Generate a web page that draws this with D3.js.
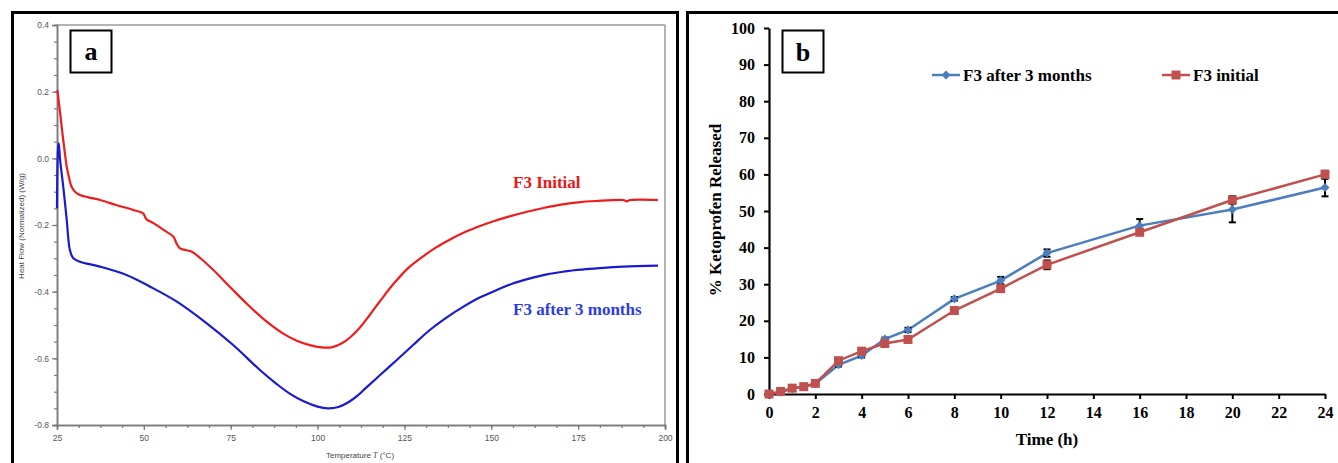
<!DOCTYPE html>
<html>
<head>
<meta charset="utf-8">
<script src="https://cdnjs.cloudflare.com/ajax/libs/d3/7.8.5/d3.min.js"></script>
<style>
  html, body { margin: 0; padding: 0; background: #fff; }
  svg { display: block; }
</style>
</head>
<body>
<svg id="fig" width="1338" height="463"></svg>
<script>
// ---- Panel a: DSC thermograms (temperature °C, heat flow W/g) ----
const initialT = [25.1, 25.4, 25.9, 26.8, 27.8, 28.5, 29.2, 30.2, 31.6, 34, 37.4, 42, 47, 49.8, 50.3, 50.8, 53, 56, 58.5, 59.4, 60.4, 62, 63.8, 66.2, 70, 75, 80, 85, 90, 94, 98, 101, 104, 107, 109.5, 112, 115, 118, 122, 126, 130, 134, 138, 142, 146, 150, 155, 160, 165, 170, 175, 180, 188, 189, 190, 198];
const initialHF = [0.205, 0.18, 0.136, 0.055, -0.025, -0.06, -0.085, -0.1, -0.11, -0.117, -0.125, -0.14, -0.155, -0.165, -0.175, -0.183, -0.196, -0.217, -0.235, -0.255, -0.27, -0.275, -0.28, -0.299, -0.335, -0.388, -0.44, -0.487, -0.525, -0.547, -0.561, -0.567, -0.567, -0.555, -0.536, -0.51, -0.47, -0.428, -0.375, -0.33, -0.297, -0.268, -0.244, -0.223, -0.206, -0.191, -0.175, -0.161, -0.149, -0.139, -0.132, -0.128, -0.125, -0.129, -0.125, -0.125];

const agedT = [25.0, 25.3, 25.5, 25.9, 26.8, 27.8, 28.3, 28.7, 29.7, 31.6, 37.4, 45, 51.8, 59.5, 68.1, 75.7, 83.4, 88, 92, 96, 100, 103, 106, 109, 111.5, 114, 118, 122.8, 127.5, 132.3, 137.2, 142, 146.8, 151.6, 156, 161.2, 166, 170.8, 175.5, 180.4, 188, 198];
const agedHF = [-0.15, 0.03, 0.045, -0.005, -0.085, -0.185, -0.245, -0.275, -0.3, -0.31, -0.325, -0.35, -0.385, -0.43, -0.495, -0.56, -0.635, -0.675, -0.706, -0.729, -0.745, -0.75, -0.746, -0.731, -0.712, -0.688, -0.65, -0.605, -0.56, -0.515, -0.477, -0.445, -0.417, -0.395, -0.376, -0.36, -0.348, -0.34, -0.334, -0.33, -0.325, -0.322];

const tempTicks = [25, 50, 75, 100, 125, 150, 175, 200];
const heatTicks = [0.4, 0.2, 0.0, -0.2, -0.4, -0.6, -0.8];

// ---- Panel b: dissolution profiles ----
const hours = [0, 0.5, 1, 1.5, 2, 3, 4, 5, 6, 8, 10, 12, 16, 20, 24];
const after3Months = [0, 0.5, 1.5, 2, 2.8, 8, 10.5, 15, 17.5, 26, 31, 38.5, 46, 50.4, 56.4];
const after3MonthsErr = [0, 0.2, 0.3, 0.3, 0.3, 0.5, 0.5, 0.4, 0.6, 0.5, 1.0, 1.0, 1.8, 3.5, 2.4];
const initial = [0, 0.7, 1.6, 2.0, 2.9, 9.1, 11.7, 13.8, 14.9, 22.8, 28.8, 35.3, 44.2, 53.0, 60.0];
const initialErr = [0, 0.2, 0.3, 0.3, 0.3, 0.5, 0.4, 0.4, 0.5, 0.5, 0.6, 1.2, 0.8, 1.0, 1.0];
const hourTicks = [0, 2, 4, 6, 8, 10, 12, 14, 16, 18, 20, 22, 24];
const releaseTicks = [0, 10, 20, 30, 40, 50, 60, 70, 80, 90, 100];

const svg = d3.select("#fig");
const serif = "'Liberation Serif', 'Times New Roman', serif";
const sans = "'Liberation Sans', Arial, sans-serif";

// ================= Panel a =================
const pa = svg.append("g");
pa.append("rect").attr("x", 12.5).attr("y", 12.5).attr("width", 665).attr("height", 470)
  .attr("fill", "none").attr("stroke", "#000").attr("stroke-width", 3);

const xa = d3.scaleLinear().domain([25, 200]).range([57, 665]);
const ya = d3.scaleLinear().domain([-0.8, 0.4]).range([425, 25]);
const grey = "#7a7a7a";

// plot frame
pa.append("line").attr("x1", xa(25)).attr("x2", xa(200)).attr("y1", ya(0.4)).attr("y2", ya(0.4))
  .attr("stroke", "#9a9a9a").attr("stroke-width", 1.5);
pa.append("line").attr("x1", xa(200)).attr("x2", xa(200)).attr("y1", ya(0.4)).attr("y2", ya(-0.8))
  .attr("stroke", "#9a9a9a").attr("stroke-width", 1.5);

const xAxisA = d3.axisBottom(xa).tickValues(d3.range(25, 200.1, 6.25)).tickSize(3).tickFormat("");
const gxa = pa.append("g").attr("transform", `translate(0,${ya(-0.8)})`).call(xAxisA);
const xAxisAMaj = d3.axisBottom(xa).tickValues(tempTicks).tickSize(5).tickPadding(5).tickFormat(d3.format("d"));
const gxa2 = pa.append("g").attr("transform", `translate(0,${ya(-0.8)})`).call(xAxisAMaj);
const yAxisA = d3.axisLeft(ya).tickValues(d3.range(-0.8, 0.401, 0.05)).tickSize(3).tickFormat("");
const gya = pa.append("g").attr("transform", `translate(${xa(25)},0)`).call(yAxisA);
const yAxisAMaj = d3.axisLeft(ya).tickValues(heatTicks).tickSize(5).tickPadding(3)
  .tickFormat(d => d3.format(".1f")(d).replace("\u2212", "-"));
const gya2 = pa.append("g").attr("transform", `translate(${xa(25)},0)`).call(yAxisAMaj);
[gxa, gxa2, gya, gya2].forEach(g => {
  g.selectAll(".domain").attr("stroke", grey).attr("stroke-width", 1.5);
  g.selectAll(".tick line").attr("stroke", grey).attr("stroke-width", 1.2);
  g.selectAll(".tick text").attr("fill", "#555").attr("font-family", sans).attr("font-size", 8.5);
});

pa.append("text").attr("transform", `translate(24,${226}) rotate(-90)`).attr("text-anchor", "middle")
  .attr("font-family", sans).attr("font-size", 8).attr("fill", "#444").text("Heat Flow (Normalized) (W/g)");
const tt = pa.append("text").attr("x", 360).attr("y", 458).attr("text-anchor", "middle")
  .attr("font-family", sans).attr("font-size", 8).attr("fill", "#444");
tt.append("tspan").text("Temperature ");
tt.append("tspan").attr("font-family", serif).attr("font-style", "italic").text("T");
tt.append("tspan").text(" (\u00B0C)");

const lineA = d3.line().x(d => xa(d[0])).y(d => ya(d[1])).curve(d3.curveCatmullRom.alpha(0.5));
pa.append("path").datum(d3.zip(agedT, agedHF)).attr("d", lineA)
  .attr("fill", "none").attr("stroke", "#1a1ad0").attr("stroke-width", 2.2);
pa.append("path").datum(d3.zip(initialT, initialHF)).attr("d", lineA)
  .attr("fill", "none").attr("stroke", "#f01c1c").attr("stroke-width", 2.2);

pa.append("text").attr("x", 513).attr("y", 188).attr("font-family", serif).attr("font-weight", "bold")
  .attr("font-size", 17).attr("fill", "#ee1515").text("F3 Initial");
pa.append("text").attr("x", 513).attr("y", 315).attr("font-family", serif).attr("font-weight", "bold")
  .attr("font-size", 17).attr("fill", "#2b3ee6").text("F3 after 3 months");

pa.append("rect").attr("x", 70.5).attr("y", 30.5).attr("width", 41).attr("height", 42)
  .attr("fill", "#fff").attr("stroke", "#000").attr("stroke-width", 2);
pa.append("text").attr("x", 91).attr("y", 60).attr("text-anchor", "middle").attr("font-family", serif)
  .attr("font-weight", "bold").attr("font-size", 26).text("a");

// ================= Panel b =================
const pb = svg.append("g");
pb.append("rect").attr("x", 687.5).attr("y", 12.5).attr("width", 665).attr("height", 470)
  .attr("fill", "none").attr("stroke", "#000").attr("stroke-width", 3);

const xb = d3.scaleLinear().domain([0, 24]).range([769, 1325]);
const yb = d3.scaleLinear().domain([0, 100]).range([394, 28]);

const gxb = pb.append("g").attr("transform", `translate(0,${yb(0)})`)
  .call(d3.axisBottom(xb).tickValues(hourTicks).tickSize(5).tickSizeOuter(0).tickPadding(8));
const gyb = pb.append("g").attr("transform", `translate(${xb(0)},0)`)
  .call(d3.axisLeft(yb).tickValues(releaseTicks).tickSize(5).tickSizeOuter(0).tickPadding(9));
[gxb, gyb].forEach(g => {
  g.selectAll(".domain").attr("stroke", "#000").attr("stroke-width", 2.2);
  g.selectAll(".tick line").attr("stroke", "#000").attr("stroke-width", 2);
  g.selectAll(".tick text").attr("fill", "#000").attr("font-family", serif)
    .attr("font-weight", "bold").attr("font-size", 16);
});

pb.append("text").attr("x", 1047).attr("y", 445).attr("text-anchor", "middle").attr("font-family", serif)
  .attr("font-weight", "bold").attr("font-size", 17).text("Time (h)");
pb.append("text").attr("transform", `translate(721,${210}) rotate(-90)`).attr("text-anchor", "middle")
  .attr("font-family", serif).attr("font-weight", "bold").attr("font-size", 17).text("% Ketoprofen Released");

const blue = "#4a7ebf", red = "#c0504d";
const diamond = (cx, cy, r) => `M${cx},${cy - r}L${cx + r},${cy}L${cx},${cy + r}L${cx - r},${cy}Z`;
const square = (cx, cy, r) => `M${cx - r},${cy - r}h${2 * r}v${2 * r}h${-2 * r}Z`;

function drawSeries(vals, errs, color, marker, r) {
  const pts = d3.zip(hours, vals, errs);
  const g = pb.append("g");
  g.append("path").datum(pts).attr("d", d3.line().x(d => xb(d[0])).y(d => yb(d[1])))
    .attr("fill", "none").attr("stroke", color).attr("stroke-width", 2.5);
  const eb = g.append("g").attr("stroke", "#000").attr("stroke-width", 2);
  pts.filter(d => d[2] > 0).forEach(d => {
    const x = xb(d[0]), y0 = yb(d[1] - d[2]), y1 = yb(d[1] + d[2]);
    eb.append("line").attr("x1", x).attr("x2", x).attr("y1", y0).attr("y2", y1);
    eb.append("line").attr("x1", x - 3.5).attr("x2", x + 3.5).attr("y1", y0).attr("y2", y0);
    eb.append("line").attr("x1", x - 3.5).attr("x2", x + 3.5).attr("y1", y1).attr("y2", y1);
  });
  g.selectAll("path.m").data(pts).join("path").attr("class", "m")
    .attr("d", d => marker(xb(d[0]), yb(d[1]), r)).attr("fill", color);
}
drawSeries(after3Months, after3MonthsErr, blue, diamond, 4.5);
drawSeries(initial, initialErr, red, square, 4.5);

// legend
const lg = pb.append("g").attr("font-family", serif).attr("font-weight", "bold").attr("font-size", 17);
lg.append("line").attr("x1", 932).attr("x2", 960).attr("y1", 75).attr("y2", 75).attr("stroke", blue).attr("stroke-width", 2.5);
lg.append("path").attr("d", diamond(946, 75, 4.5)).attr("fill", blue);
lg.append("text").attr("x", 963).attr("y", 80.5).text("F3 after 3 months");
lg.append("line").attr("x1", 1162).attr("x2", 1190).attr("y1", 75).attr("y2", 75).attr("stroke", red).attr("stroke-width", 2.5);
lg.append("path").attr("d", square(1176, 75, 4.5)).attr("fill", red);
lg.append("text").attr("x", 1193).attr("y", 80.5).text("F3 initial");

pb.append("rect").attr("x", 782.5).attr("y", 30.5).attr("width", 41).attr("height", 42)
  .attr("fill", "#fff").attr("stroke", "#000").attr("stroke-width", 2);
pb.append("text").attr("x", 803).attr("y", 61).attr("text-anchor", "middle").attr("font-family", serif)
  .attr("font-weight", "bold").attr("font-size", 26).text("b");
</script>
</body>
</html>
